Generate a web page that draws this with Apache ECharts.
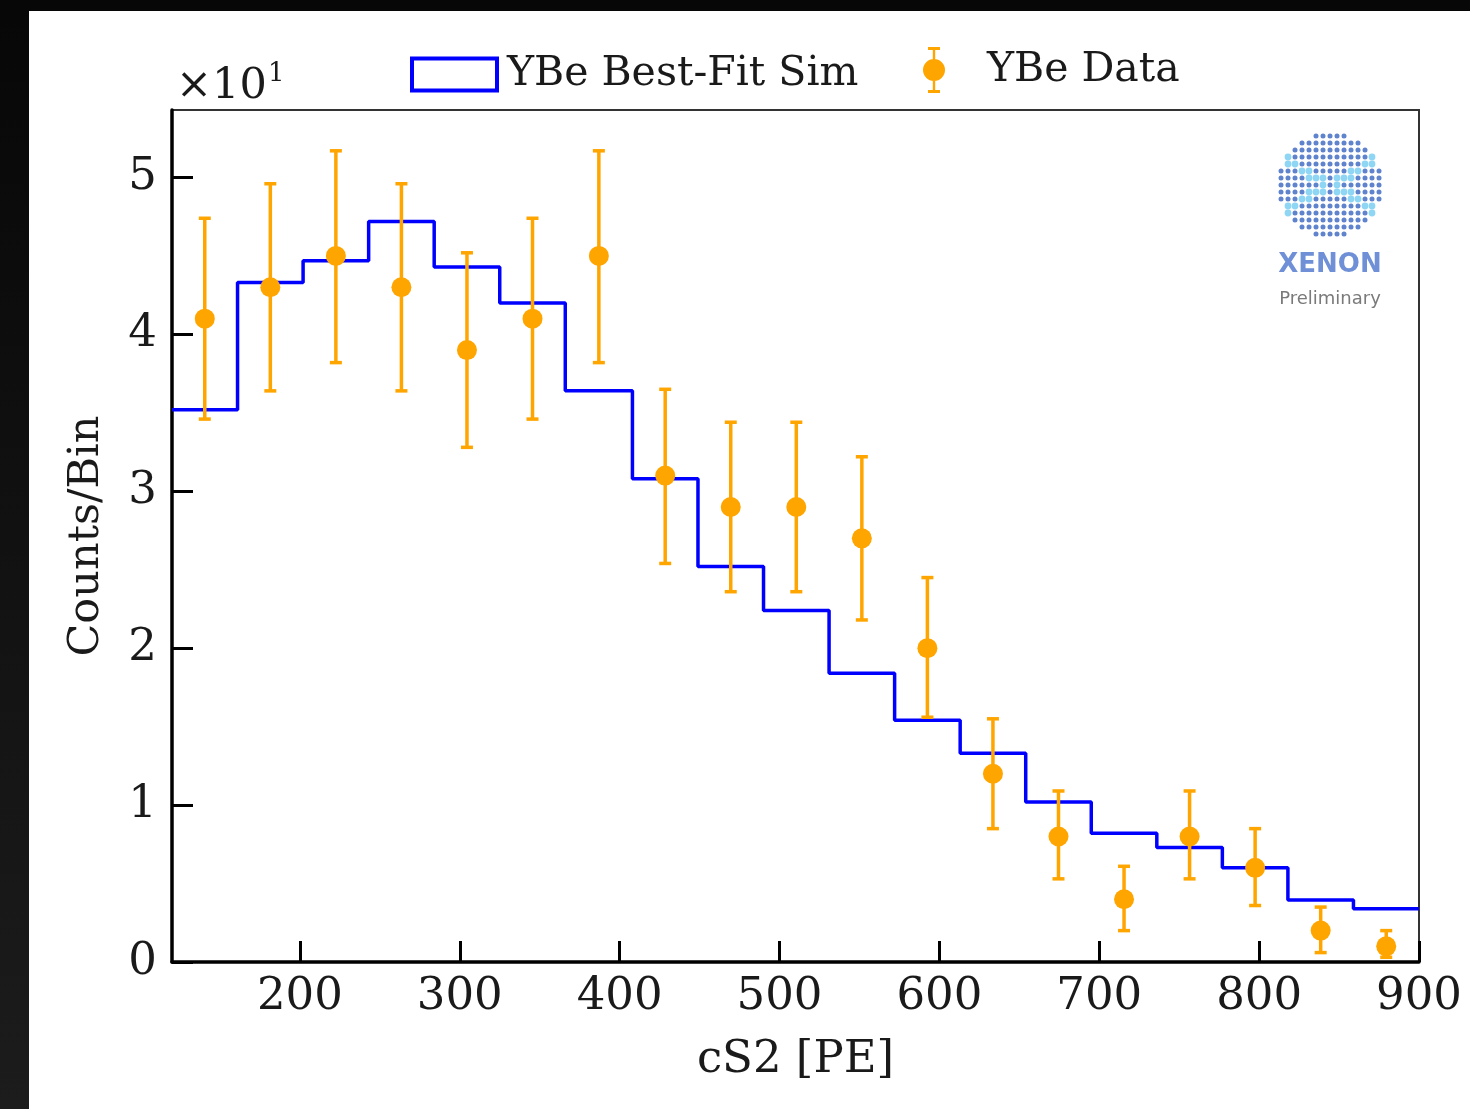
<!DOCTYPE html>
<html>
<head>
<meta charset="utf-8">
<script src="https://cdn.jsdelivr.net/npm/echarts@6/dist/echarts.min.js"></script>
<style>
html,body{margin:0;padding:0;background:#fff;}
#chart{width:1470px;height:1109px;}
</style>
</head>
<body>
<div id="chart"></div>
<script>
// ---- data (counts per bin) ----
const binEdges = [120, 161, 202, 243, 284, 325, 366, 408, 449, 490, 531, 572, 613, 654, 695, 736, 777, 818, 859, 900];
const simCounts = [35.2, 43.3, 44.7, 47.2, 44.3, 42.0, 36.4, 30.8, 25.2, 22.4, 18.4, 15.4, 13.3, 10.2, 8.2, 7.3, 6.0, 3.95, 3.4];
const dataX = [140.5, 181.5, 222.5, 263.5, 304.5, 345.5, 387, 428.5, 469.5, 510.5, 551.5, 592.5, 633.5, 674.5, 715.5, 756.5, 797.5, 838.5, 879.5];
const dataCounts = [41, 43, 45, 43, 39, 41, 45, 31, 29, 29, 27, 20, 12, 8, 4, 8, 6, 2, 1];
const errUpper = [47.4, 49.6, 51.7, 49.6, 45.2, 47.4, 51.7, 36.5, 34.4, 34.4, 32.2, 24.5, 15.5, 10.9, 6.1, 10.9, 8.5, 3.5, 2.0];
const errLower = [34.6, 36.4, 38.2, 36.4, 32.8, 34.6, 38.2, 25.4, 23.6, 23.6, 21.8, 15.6, 8.5, 5.3, 2.0, 5.3, 3.6, 0.6, 0.3];
const xTicks = [200, 300, 400, 500, 600, 700, 800, 900];
const yTicks = [0, 10, 20, 30, 40, 50];
const yScaleLabel = '×10';
const yScaleExp = '1';

const FONT = 'DejaVu Serif';
const BLUE = '#0000ff';
const ORANGE = '#ffa500';
const TXT = '#1a1a1a';

const stepData = binEdges.slice(0, simCounts.length).map((e, i) => [e, simCounts[i]]);
stepData.push([binEdges[binEdges.length - 1], simCounts[simCounts.length - 1]]);
const pointData = dataX.map((x, i) => [x, dataCounts[i], errLower[i], errUpper[i]]);

// XENON logo decoration (dots in a circle)
const logo = [];
const cx = 1330, cy = 185, R = 51, sp = 7.0;
for (let i = -7; i <= 7; i++) {
  for (let j = -7; j <= 7; j++) {
    const dx = i * sp, dy = j * sp;
    if (dx * dx + dy * dy > R * R) continue;
    const onX = (Math.abs(dy - 0.55 * dx) < 5 || Math.abs(dy + 0.55 * dx) < 5) && Math.abs(dx) > 6;
    logo.push({
      type: 'circle', silent: true,
      shape: {cx: cx + dx, cy: cy + dy, r: onX ? 3.4 : 2.5},
      style: {fill: onX ? '#8fd6f4' : '#5f83cc'}
    });
  }
}

const chart = echarts.init(document.getElementById('chart'), null, {renderer: 'canvas'});
const errIcon = 'path://M5,0H17V3H12.2V13H9.8V3H5Z M9.8,33H12.2V43H17V46H5V43H9.8Z M0,23A11,11 0 1,1 22,23A11,11 0 1,1 0,23Z';

chart.setOption({
  backgroundColor: '#ffffff',
  animation: false,
  grid: {left: 172, top: 110, right: 51, bottom: 147, show: true, borderColor: '#333', borderWidth: 2, containLabel: false},
  legend: [
    {
      left: 410, top: 54, padding: 0, itemWidth: 85, itemHeight: 32, selectedMode: false,
      data: [{name: 'YBe Best-Fit Sim', icon: 'rect', itemStyle: {color: '#ffffff', borderColor: BLUE, borderWidth: 4}}],
      textStyle: {fontFamily: FONT, fontSize: 41, color: TXT, padding: [0, 0, 0, 5]}
    },
    {
      left: 923, top: 47, padding: 0, itemWidth: 22, itemHeight: 46, selectedMode: false,
      data: [{name: 'YBe Data', icon: errIcon, itemStyle: {color: ORANGE}}],
      textStyle: {fontFamily: FONT, fontSize: 41, color: TXT, padding: [0, 0, 0, 37]}
    }
  ],
  xAxis: {
    type: 'value', min: 120, max: 900,
    name: 'cS2 [PE]', nameLocation: 'middle', nameGap: 76,
    nameTextStyle: {fontFamily: FONT, fontSize: 45, color: TXT},
    axisLine: {show: true, lineStyle: {color: '#000', width: 3.5}},
    axisTick: {show: true, inside: true, length: 21, lineStyle: {color: '#000', width: 3}, customValues: xTicks},
    axisLabel: {fontFamily: FONT, fontSize: 45, color: TXT, margin: 13, customValues: xTicks},
    splitLine: {show: false}
  },
  yAxis: {
    type: 'value', min: 0, max: 54.3,
    name: 'Counts/Bin', nameLocation: 'middle', nameGap: 64,
    nameTextStyle: {fontFamily: FONT, fontSize: 43, color: TXT},
    axisLine: {show: true, lineStyle: {color: '#000', width: 3.5}},
    axisTick: {show: true, inside: true, length: 21, lineStyle: {color: '#000', width: 3}, customValues: yTicks},
    axisLabel: {fontFamily: FONT, fontSize: 45, color: TXT, margin: 15, customValues: yTicks,
      formatter: v => String(Math.round(v / 10))},
    splitLine: {show: false}
  },
  graphic: [
    {type: 'rect', silent: true, shape: {x: 0, y: 0, width: 1470, height: 11}, style: {fill: '#070707'}},
    {type: 'rect', silent: true, shape: {x: 0, y: 0, width: 29, height: 1109},
      style: {fill: new echarts.graphic.LinearGradient(0, 0, 0, 1, [{offset: 0, color: '#070707'}, {offset: 1, color: '#1c1c1c'}])}},
    {type: 'text', silent: true, style: {x: 176, y: 87, text: yScaleLabel, font: '43px "DejaVu Serif"', fill: TXT, verticalAlign: 'middle'}},
    {type: 'text', silent: true, style: {x: 268, y: 74, text: yScaleExp, font: '26px "DejaVu Serif"', fill: TXT, verticalAlign: 'middle'}},
    ...logo,
    {type: 'text', silent: true, style: {x: 1330, y: 265, text: 'XENON', font: 'bold 26px "DejaVu Sans"', fill: '#6f90d6', align: 'center', verticalAlign: 'middle'}},
    {type: 'text', silent: true, style: {x: 1330, y: 299, text: 'Preliminary', font: '18px "DejaVu Sans"', fill: '#7a7a7a', align: 'center', verticalAlign: 'middle'}}
  ],
  series: [
    {
      name: 'YBe Best-Fit Sim', type: 'line', step: 'end', data: stepData,
      symbol: 'none', lineStyle: {color: BLUE, width: 3.5}, itemStyle: {color: BLUE},
      clip: true, z: 2
    },
    {
      name: 'YBe Data', type: 'custom', data: pointData, z: 3,
      itemStyle: {color: ORANGE},
      encode: {x: 0, y: [1, 2, 3]},
      renderItem: function (params, api) {
        const x = api.value(0);
        const c = api.coord([x, api.value(1)]);
        const lo = api.coord([x, api.value(2)]);
        const hi = api.coord([x, api.value(3)]);
        const cw = 6;
        const st = {stroke: ORANGE, lineWidth: 3.5};
        return {
          type: 'group',
          children: [
            {type: 'line', shape: {x1: c[0], y1: hi[1], x2: c[0], y2: lo[1]}, style: st},
            {type: 'line', shape: {x1: c[0] - cw, y1: hi[1], x2: c[0] + cw, y2: hi[1]}, style: st},
            {type: 'line', shape: {x1: c[0] - cw, y1: lo[1], x2: c[0] + cw, y2: lo[1]}, style: st},
            {type: 'circle', shape: {cx: c[0], cy: c[1], r: 10}, style: {fill: ORANGE}}
          ]
        };
      }
    }
  ]
});
</script>
</body>
</html>
